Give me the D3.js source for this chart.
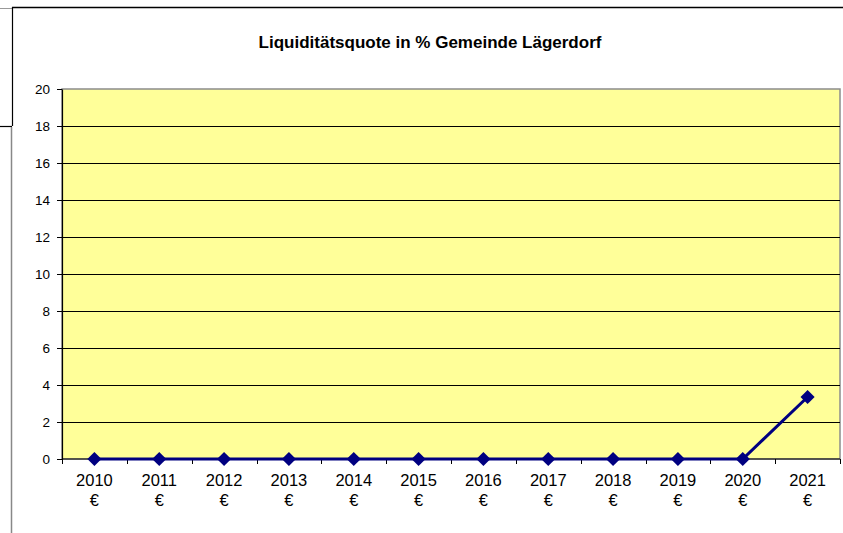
<!DOCTYPE html>
<html>
<head>
<meta charset="utf-8">
<script src="https://cdn.jsdelivr.net/npm/d3@7"></script>
<style>
  body { margin: 0; background: #fff; }
  svg { display: block; font-family: "Liberation Sans", Arial, sans-serif; }
</style>
</head>
<body>
<svg id="chart" width="843" height="533"></svg>
<script>
// Daten
const years = ["2010", "2011", "2012", "2013", "2014", "2015", "2016", "2017", "2018", "2019", "2020", "2021"];
const unitLabel = "€";
const quote = [0, 0, 0, 0, 0, 0, 0, 0, 0, 0, 0, 3.35];
const yTicks = [0, 2, 4, 6, 8, 10, 12, 14, 16, 18, 20];

const width = 843, height = 533;
const margin = { top: 89, right: 3, bottom: 74, left: 62 };
const chart_width = width - margin.left - margin.right;
const chart_height = height - margin.top - margin.bottom;

const svg = d3.select("#chart");

// Rahmen (Reste des Tabellenblatts)
svg.append("line").attr("x1", 0).attr("x2", 12).attr("y1", 8.5).attr("y2", 8.5)
  .attr("stroke", "#999").attr("stroke-width", 1);
svg.append("line").attr("x1", 12).attr("x2", width).attr("y1", 7.5).attr("y2", 7.5)
  .attr("stroke", "#000").attr("stroke-width", 1.5);
svg.append("line").attr("x1", 12.5).attr("x2", 12.5).attr("y1", 7).attr("y2", 126)
  .attr("stroke", "#000").attr("stroke-width", 1.2);
svg.append("line").attr("x1", 0).attr("x2", 12).attr("y1", 126.5).attr("y2", 126.5)
  .attr("stroke", "#000").attr("stroke-width", 1.2);
svg.append("line").attr("x1", 11.5).attr("x2", 11.5).attr("y1", 127).attr("y2", height)
  .attr("stroke", "#888").attr("stroke-width", 1.5);

// Titel
svg.append("text")
  .attr("x", 430)
  .attr("y", 48)
  .attr("text-anchor", "middle")
  .style("font-size", "17px")
  .style("font-weight", "bold")
  .text("Liquiditätsquote in % Gemeinde Lägerdorf");

const g = svg.append("g").attr("transform", `translate(${margin.left}, ${margin.top})`);

const x = d3.scaleBand().domain(years).range([0, chart_width]);
const y = d3.scaleLinear().domain([0, 20]).range([chart_height, 0]);

// Zeichenfläche
g.append("rect")
  .attr("width", chart_width)
  .attr("height", chart_height)
  .attr("fill", "#ffff99")
  .attr("stroke", "#8c8c8c")
  .attr("stroke-width", 1.5);

// Gitternetz
g.append("g")
  .selectAll("line")
  .data(yTicks.filter((d) => d > 0 && d < 20))
  .join("line")
  .attr("x1", 0)
  .attr("x2", chart_width)
  .attr("y1", (d) => Math.round(y(d)) + 0.5)
  .attr("y2", (d) => Math.round(y(d)) + 0.5)
  .attr("stroke", "#000")
  .attr("stroke-width", 1);

// Y-Achse
const yAxis = g.append("g")
  .call(d3.axisLeft(y).tickValues(yTicks).tickSize(5).tickSizeOuter(0));
yAxis.select(".domain").attr("stroke", "#000").attr("stroke-width", 1.2);
yAxis.selectAll(".tick line").attr("stroke", "#000");
yAxis.selectAll(".tick text")
  .attr("x", -12)
  .style("font-size", "13.5px")
  .style("font-family", "Liberation Sans, Arial, sans-serif")
  .attr("fill", "#000");

// X-Achse
const xAxis = g.append("g").attr("transform", `translate(0, ${chart_height})`);
xAxis.append("line")
  .attr("x1", 0).attr("x2", chart_width)
  .attr("stroke", "#000").attr("stroke-width", 1.2);
const bounds = years.map((d) => x(d)).concat([chart_width]);
xAxis.selectAll(".xtick")
  .data(bounds)
  .join("line")
  .attr("class", "xtick")
  .attr("x1", (d) => Math.round(d) + 0.5)
  .attr("x2", (d) => Math.round(d) + 0.5)
  .attr("y1", 0)
  .attr("y2", 5)
  .attr("stroke", "#000");
const xl = xAxis.selectAll(".xlabel")
  .data(years)
  .join("text")
  .attr("class", "xlabel")
  .attr("text-anchor", "middle")
  .style("font-size", "16.5px")
  .attr("fill", "#000");
xl.append("tspan")
  .attr("x", (d) => x(d) + x.bandwidth() / 2)
  .attr("y", 27)
  .text((d) => d);
xl.append("tspan")
  .attr("x", (d) => x(d) + x.bandwidth() / 2)
  .attr("y", 47)
  .text(unitLabel);

// Linie
const pts = years.map((d, i) => ({ year: d, v: quote[i] }));
const line = d3.line()
  .x((d) => x(d.year) + x.bandwidth() / 2)
  .y((d) => y(d.v));

g.append("path")
  .datum(pts)
  .attr("d", line)
  .attr("fill", "none")
  .attr("stroke", "#000080")
  .attr("stroke-width", 3);

g.append("g")
  .selectAll("path")
  .data(pts)
  .join("path")
  .attr("d", d3.symbol().type(d3.symbolSquare).size(100))
  .attr("transform", (d) => `translate(${x(d.year) + x.bandwidth() / 2}, ${y(d.v)}) rotate(45)`)
  .attr("fill", "#000080");
</script>
</body>
</html>
